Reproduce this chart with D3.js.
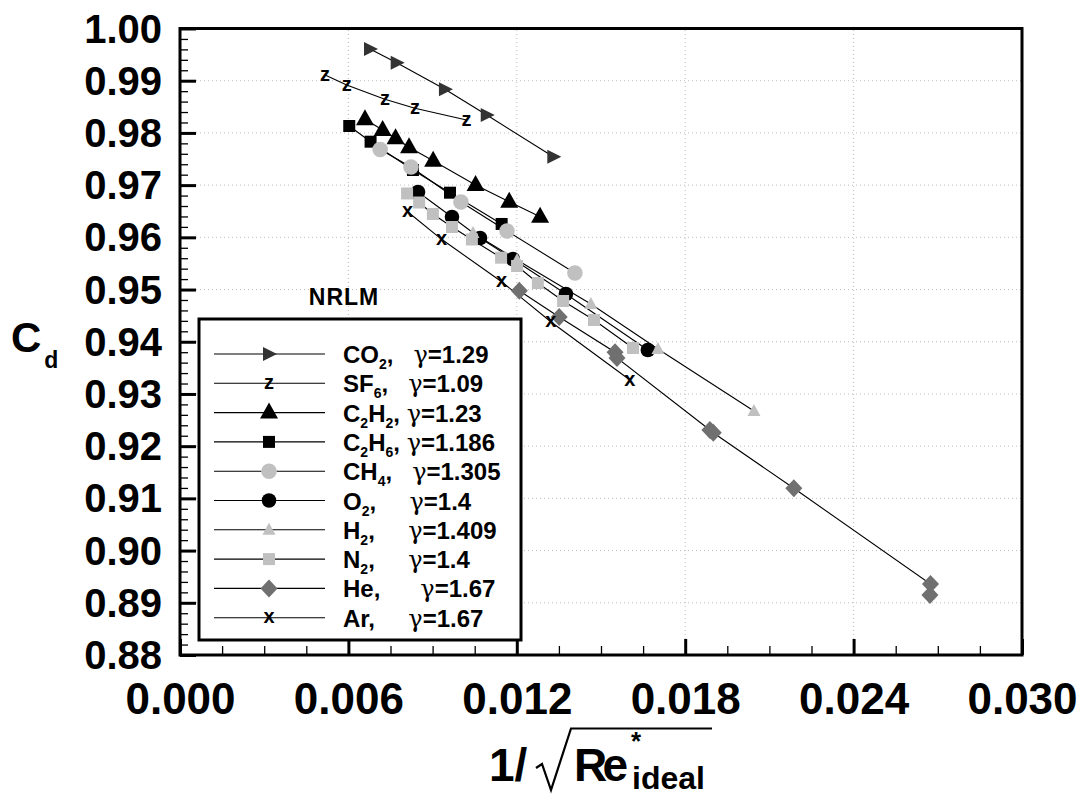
<!DOCTYPE html>
<html>
<head>
<meta charset="utf-8">
<script src="https://cdn.jsdelivr.net/npm/d3@7"></script>
<style>
  body { margin: 0; background: #fff; }
  text { font-family: "Liberation Sans", Arial, sans-serif; font-weight: bold; }
</style>
</head>
<body>
<div id="chart"></div>
<script>
// data: x = 1/sqrt(Re*ideal), y = Cd
const co2X = [0.00677, 0.00772, 0.00944, 0.01093, 0.01330];
const co2Y = [0.99607, 0.99345, 0.98835, 0.98343, 0.97545];
const sf6X = [0.00517, 0.00594, 0.00730, 0.00837, 0.01021];
const sf6Y = [0.99109, 0.98918, 0.98644, 0.98472, 0.98247];
const c2h2X = [0.00659, 0.00722, 0.00768, 0.00816, 0.00902, 0.01053, 0.01173, 0.01283];
const c2h2Y = [0.98261, 0.98056, 0.97897, 0.97725, 0.97468, 0.97002, 0.96683, 0.96395];
const c2h6X = [0.00603, 0.00679, 0.00830, 0.00962, 0.01146];
const c2h6Y = [0.98133, 0.97832, 0.97290, 0.96855, 0.96256];
const ch4X = [0.00713, 0.00823, 0.01001, 0.01165, 0.01407];
const ch4Y = [0.97682, 0.97347, 0.96677, 0.96121, 0.95317];
const o2X = [0.00848, 0.00969, 0.01069, 0.01186, 0.01375, 0.01667];
const o2Y = [0.96868, 0.96390, 0.95987, 0.95585, 0.94915, 0.93842];
const h2X = [0.01044, 0.01201, 0.01464, 0.01703, 0.02045];
const h2Y = [0.96083, 0.95566, 0.94723, 0.93861, 0.92674];
const n2X = [0.00809, 0.00852, 0.00901, 0.00969, 0.01040, 0.01144, 0.01201, 0.01275, 0.01365, 0.01475, 0.01614];
const n2Y = [0.96840, 0.96667, 0.96447, 0.96198, 0.95959, 0.95610, 0.95451, 0.95125, 0.94781, 0.94417, 0.93880];
const heX = [0.01209, 0.01351, 0.01550, 0.01557, 0.01888, 0.01900, 0.02187, 0.02674, 0.02672];
const heY = [0.94978, 0.94474, 0.93800, 0.93689, 0.92310, 0.92258, 0.91193, 0.89360, 0.89150];
const arX = [0.00811, 0.00932, 0.01146, 0.01321, 0.01603];
const arY = [0.96491, 0.95962, 0.95150, 0.94384, 0.93268];

const legendLabels = [
  "CO_2,   γ=1.29",
  "SF_6,   γ=1.09",
  "C_2H_2, γ=1.23",
  "C_2H_6, γ=1.186",
  "CH_4,   γ=1.305",
  "O_2,     γ=1.4",
  "H_2,     γ=1.409",
  "N_2,     γ=1.4",
  "He,      γ=1.67",
  "Ar,     γ=1.67"
];
const xMajorTicks = [0.000, 0.006, 0.012, 0.018, 0.024, 0.030];
const yMajorTicks = [0.88, 0.89, 0.90, 0.91, 0.92, 0.93, 0.94, 0.95, 0.96, 0.97, 0.98, 0.99, 1.00];

const zip = (xs, ys) => xs.map((x, i) => [x, ys[i]]);

// marker shapes
const shapes = {
  rtri: "M-6,-7L8,0L-6,7Z",
  tri: "M0,-10L9,6L-9,6Z",
  smalltri: "M0,-7L6.5,5L-6.5,5Z",
  square: "M-6,-6H6V6H-6Z",
  diamond: "M0,-9L8.5,0L0,9L-8.5,0Z"
};

const series = [
  { pts: zip(co2X, co2Y), shape: "rtri", fill: "#333333" },
  { pts: zip(sf6X, sf6Y), glyph: "z", fill: "#000" },
  { pts: zip(c2h2X, c2h2Y), shape: "tri", fill: "#000" },
  { pts: zip(c2h6X, c2h6Y), shape: "square", fill: "#000" },
  { pts: zip(o2X, o2Y), circle: 7.3, fill: "#000" },
  { pts: zip(ch4X, ch4Y), circle: 7.8, fill: "#c0c0c0" },
  { pts: zip(h2X, h2Y), shape: "smalltri", fill: "#c0c0c0" },
  { pts: zip(n2X, n2Y), shape: "square", fill: "#c0c0c0" },
  { pts: zip(heX, heY), shape: "diamond", fill: "#707070" },
  { pts: zip(arX, arY), glyph: "x", fill: "#000" }
];
// legend order differs from draw order
const legendOrder = [0, 1, 2, 3, 5, 4, 6, 7, 8, 9];

const width = 1087, height = 796;
const margin = { top: 28.5, left: 180, right: 65, bottom: 141 };

const x = d3.scaleLinear().domain([0, 0.030]).range([margin.left, width - margin.right]);
const y = d3.scaleLinear().domain([0.88, 1.00]).range([height - margin.bottom, margin.top]);

const svg = d3.select("#chart").append("svg")
  .attr("width", width).attr("height", height)
  .style("background", "#fff");

// dotted grid
const grid = svg.append("g").attr("stroke", "#bdbdbd").attr("stroke-dasharray", "1,3");
grid.selectAll(".gx").data(xMajorTicks.slice(1, -1)).enter().append("line")
  .attr("x1", d => x(d)).attr("x2", d => x(d))
  .attr("y1", y(0.88)).attr("y2", y(1.00));
grid.selectAll(".gy").data(yMajorTicks.slice(1, -1)).enter().append("line")
  .attr("x1", x(0)).attr("x2", x(0.030))
  .attr("y1", d => y(d)).attr("y2", d => y(d));

// axes with inward ticks
const xMinor = d3.range(0, 0.0301, 0.0015);
const yMinor = d3.range(0.88, 1.0001, 0.002);

svg.append("g").attr("transform", `translate(0,${y(0.88)})`)
  .call(d3.axisBottom(x).tickValues(xMinor).tickSize(-9).tickFormat(""))
  .call(g => g.select(".domain").remove())
  .selectAll("line").attr("stroke-width", 1.3);

svg.append("g").attr("transform", `translate(${x(0)},0)`)
  .call(d3.axisLeft(y).tickValues(yMinor).tickSize(-8).tickFormat(""))
  .call(g => g.select(".domain").remove())
  .selectAll("line").attr("stroke-width", 1.3);

const xAxisG = svg.append("g").attr("transform", `translate(0,${y(0.88)})`)
  .call(d3.axisBottom(x).tickValues(xMajorTicks).tickSize(-16).tickPadding(28).tickFormat(d3.format(".3f")));
xAxisG.select(".domain").remove();
xAxisG.selectAll("line").attr("stroke-width", 3);
xAxisG.selectAll("text").attr("font-size", 44).attr("fill", "#000")
  .attr("font-family", "'Liberation Sans', Arial, sans-serif").attr("font-weight", "bold");

const yAxisG = svg.append("g").attr("transform", `translate(${x(0)},0)`)
  .call(d3.axisLeft(y).tickValues(yMajorTicks).tickSize(-16).tickPadding(18).tickFormat(d3.format(".2f")));
yAxisG.select(".domain").remove();
yAxisG.selectAll("line").attr("stroke-width", 3);
yAxisG.selectAll("text").attr("font-size", 40).attr("fill", "#000").attr("dy", "0.34em")
  .attr("font-family", "'Liberation Sans', Arial, sans-serif").attr("font-weight", "bold");

// frame
svg.append("rect")
  .attr("x", x(0)).attr("y", y(1.00))
  .attr("width", x(0.030) - x(0)).attr("height", y(0.88) - y(1.00))
  .attr("fill", "none").attr("stroke", "#000").attr("stroke-width", 3);

// series lines
const line = d3.line().x(d => x(d[0])).y(d => y(d[1]));
svg.append("g").selectAll("path").data(series).enter().append("path")
  .attr("d", s => line(s.pts))
  .attr("fill", "none").attr("stroke", "#000").attr("stroke-width", 1.1);

function drawMarker(g, s) {
  if (s.glyph) {
    g.append("text").text(s.glyph)
      .attr("text-anchor", "middle").attr("dy", "0.28em")
      .attr("font-size", 20).attr("fill", s.fill);
  } else if (s.circle) {
    g.append("circle").attr("r", s.circle).attr("fill", s.fill);
  } else {
    g.append("path").attr("d", shapes[s.shape]).attr("fill", s.fill);
  }
}

series.forEach(s => {
  const g = svg.append("g");
  g.selectAll("g").data(s.pts).enter().append("g")
    .attr("transform", d => `translate(${x(d[0])},${y(d[1])})`)
    .each(function () { drawMarker(d3.select(this), s); });
});

// legend
svg.append("text").text("NRLM")
  .attr("x", 344).attr("y", 305).attr("text-anchor", "middle")
  .attr("font-size", 23).attr("letter-spacing", 1);

const legend = svg.append("g");
legend.append("rect")
  .attr("x", 199).attr("y", 319).attr("width", 322).attr("height", 321)
  .attr("fill", "#fff").attr("stroke", "#000").attr("stroke-width", 3);

legendLabels.forEach((lab, i) => {
  const cy = 354 + i * 29.3;
  const base = cy + 9;
  const s = series[legendOrder[i]];
  legend.append("line").attr("x1", 214).attr("x2", 325).attr("y1", cy).attr("y2", cy)
    .attr("stroke", "#000").attr("stroke-width", 1.1);
  const mg = legend.append("g").attr("transform", `translate(269,${cy})`);
  drawMarker(mg, s);
  const t = legend.append("text").attr("x", 343).attr("y", base)
    .attr("font-size", 24).style("white-space", "pre");
  lab.split(/(_\d|γ)/).forEach(part => {
    if (!part) return;
    if (part[0] === "_") {
      t.append("tspan").text(part.slice(1)).attr("font-size", 14).attr("y", base + 6);
    } else if (part === "γ") {
      t.append("tspan").text(part).attr("y", base)
        .attr("font-family", "'DejaVu Serif', serif").attr("font-weight", "normal");
    } else {
      t.append("tspan").text(part).attr("y", base);
    }
  });
});

// axis titles
const cd = svg.append("text").attr("x", 11).attr("y", 352).attr("font-size", 42);
cd.append("tspan").text("C");
cd.append("tspan").text("d").attr("font-size", 23).attr("dy", 16).attr("dx", 3);

svg.append("text").text("1/").attr("x", 489).attr("y", 781).attr("font-size", 46);
svg.append("path")
  .attr("d", "M536,768L542,764L551,790L571,728.5L712,728.5")
  .attr("fill", "none").attr("stroke", "#000").attr("stroke-width", 2.2);
svg.append("text").text("Re").attr("x", 574).attr("y", 781).attr("font-size", 46)
  .attr("textLength", 54);
svg.append("text").text("*").attr("x", 631).attr("y", 750).attr("font-size", 26).attr("font-weight", "normal");
svg.append("text").text("ideal").attr("x", 632).attr("y", 789).attr("font-size", 32);
</script>
</body>
</html>
